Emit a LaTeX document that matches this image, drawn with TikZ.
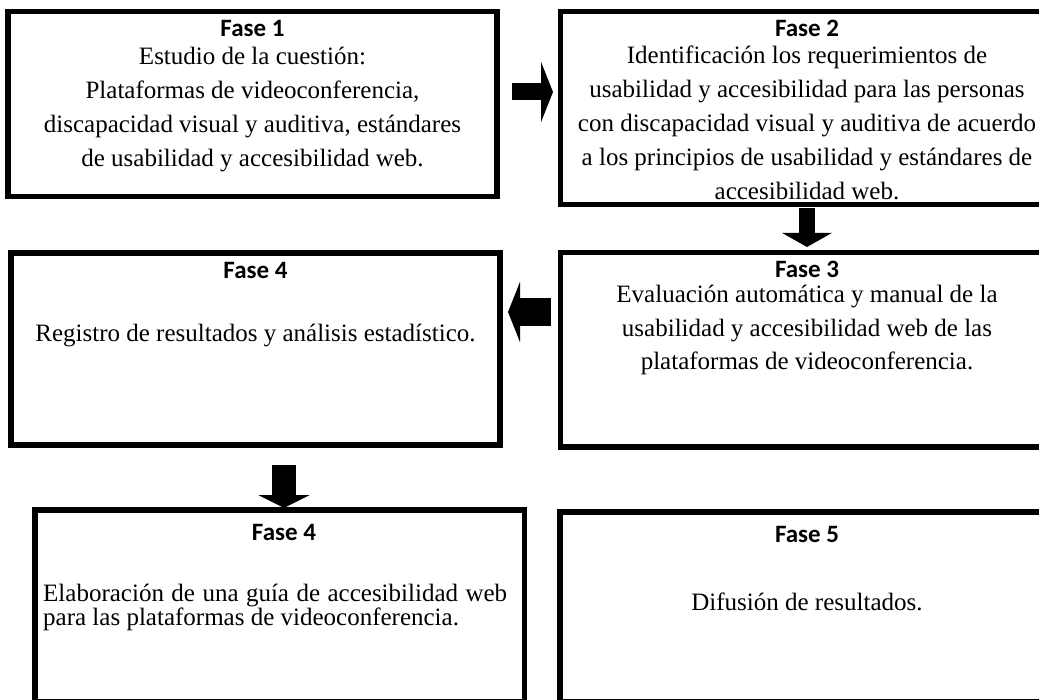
\documentclass[tikz,border=0pt]{standalone}
\usepackage{fontspec}
\setmainfont{Liberation Serif}
\newfontfamily\hdrfont{Carlito}
\usetikzlibrary{arrows.meta}
\tikzset{
  box/.style={draw=black, line width=5.5pt, rectangle, inner sep=0pt},
  hdr/.style={font=\hdrfont\bfseries\fontsize{25}{30}\selectfont, anchor=base, inner sep=0pt},
  body/.style={anchor=base, inner sep=0pt},
  blockarrow/.style={draw=black, line cap=butt}
}
\newcommand{\ctext}[3]{\parbox[t]{#1}{\centering\fontsize{25}{#2}\selectfont #3}}
\begin{document}
\begin{tikzpicture}[x=1pt,y=-1pt]
\clip (0,0) rectangle (1039,700);
\fill[white] (0,0) rectangle (1039,700);
% boxes
\node[box, minimum width=489pt, minimum height=185pt] (b1) at (252.5,104) {};
\node[box, minimum width=493pt, minimum height=193pt] (b2) at (807,108) {};
\node[box, minimum width=493pt, minimum height=194.5pt] (b3) at (807,349.75) {};
\node[box, minimum width=489pt, minimum height=192pt] (b4) at (255.5,349) {};
\node[box, minimum width=489.5pt, minimum height=192pt] (b5) at (279.75,606) {};
\node[box, minimum width=493.5pt, minimum height=190pt] (b6) at (806.75,607) {};
% headers
\node[hdr] (h1) at (252.5,37) {Fase 1};
\node[hdr] (h2) at (807,37) {Fase 2};
\node[hdr] (h3) at (807,278) {Fase 3};
\node[hdr] (h4) at (255.5,279) {Fase 4};
\node[hdr] (h5) at (284,540) {Fase 4};
\node[hdr] (h6) at (807,542) {Fase 5};
% texts
\node[body] (t1) at (252.5,65) {\ctext{480pt}{34}{Estudio de la cuestión:\\ Plataformas de videoconferencia,\\ discapacidad visual y auditiva, estándares\\ de usabilidad y accesibilidad web.}};
\node[body] (t2) at (807,64) {\ctext{488pt}{34}{Identificación los requerimientos de\\ usabilidad y accesibilidad para las personas\\ con discapacidad visual y auditiva de acuerdo\\ a los principios de usabilidad y estándares de\\ accesibilidad web.}};
\node[body] (t3) at (807,303) {\ctext{488pt}{33.5}{Evaluación automática y manual de la\\ usabilidad y accesibilidad web de las\\ plataformas de videoconferencia.}};
\node[body] (t4) at (255.5,342) {\ctext{480pt}{33.5}{Registro de resultados y análisis estadístico.}};
\node[body, anchor=base west] (t5) at (43,601) {\parbox[t]{464pt}{\raggedright\fontsize{25}{24}\selectfont\makebox[464pt][s]{Elaboración de una guía de accesibilidad web}\\ para las plataformas de videoconferencia.}};
\node[body] (t6) at (807,610) {\ctext{480pt}{33.5}{Difusión de resultados.}};
% block arrows
\coordinate (a1s) at (512,92);  \coordinate (a1e) at (553,92);
\coordinate (a2s) at (807,208); \coordinate (a2e) at (807,247);
\coordinate (a3s) at (551,312); \coordinate (a3e) at (508,312);
\coordinate (a4s) at (284,465); \coordinate (a4e) at (284,508);
\draw[blockarrow, line width=17pt, -{Triangle[length=12pt,width=60pt]}] (a1s) -- (a1e);
\draw[blockarrow, line width=16pt, -{Triangle[length=14pt,width=49pt]}] (a2s) -- (a2e);
\draw[blockarrow, line width=28pt, -{Triangle[length=12pt,width=60pt]}] (a3s) -- (a3e);
\draw[blockarrow, line width=24pt, -{Triangle[length=13pt,width=51pt]}] (a4s) -- (a4e);
\end{tikzpicture}
\end{document}
